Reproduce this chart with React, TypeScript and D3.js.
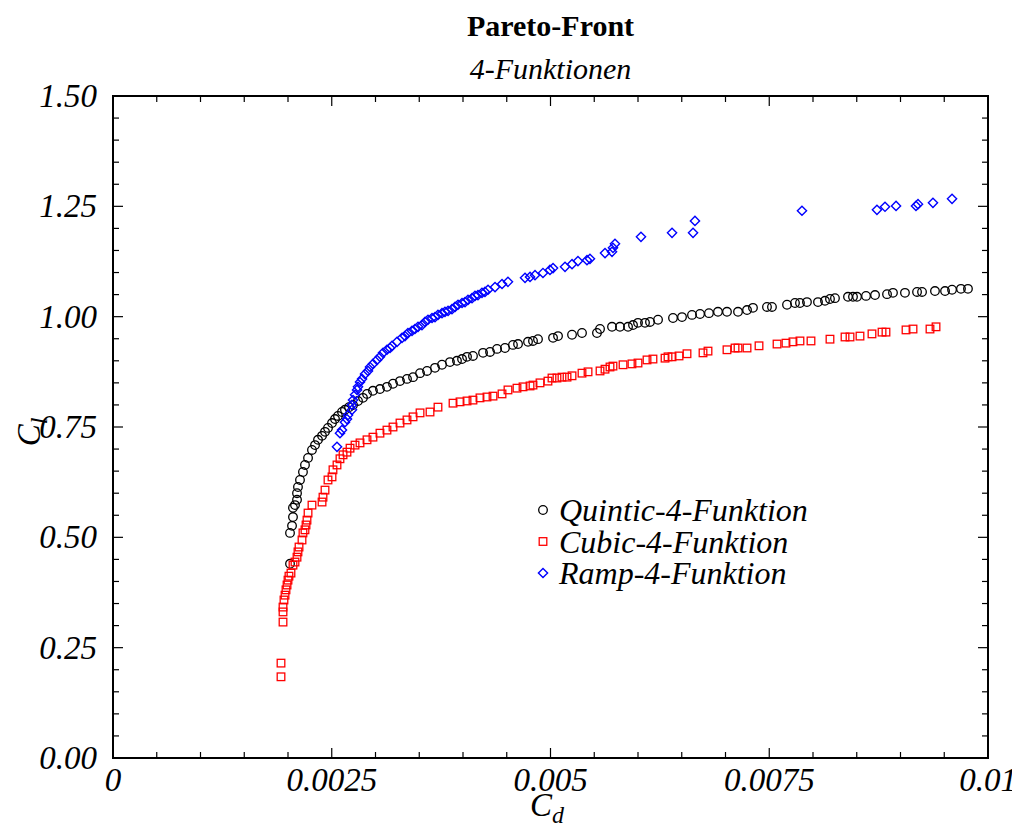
import React from "react";
import * as d3 from "d3";

// ---- Data (Cd, Cl) ----
const quinticCd = [0.002023,0.002023,0.002046,0.002057,0.002057,0.002080,0.002103,0.002103,0.002114,0.002137,0.002171,0.002194,0.002229,0.002274,0.002309,0.002343,0.002389,0.002423,0.002457,0.002503,0.002537,0.002571,0.002617,0.002651,0.002697,0.002743,0.002800,0.002857,0.002903,0.002971,0.003051,0.003131,0.003200,0.003280,0.003360,0.003429,0.003509,0.003589,0.003680,0.003760,0.003851,0.003931,0.003989,0.004046,0.004114,0.004229,0.004309,0.004389,0.004480,0.004571,0.004629,0.004743,0.004800,0.004857,0.005029,0.005086,0.005246,0.005360,0.005531,0.005566,0.005703,0.005794,0.005886,0.005943,0.006000,0.006080,0.006137,0.006229,0.006400,0.006503,0.006617,0.006709,0.006811,0.006914,0.007017,0.007143,0.007246,0.007314,0.007474,0.007531,0.007703,0.007794,0.007851,0.007931,0.008057,0.008137,0.008194,0.008251,0.008400,0.008457,0.008503,0.008606,0.008709,0.008846,0.008914,0.009051,0.009189,0.009246,0.009394,0.009509,0.009589,0.009691,0.009771];
const quinticCl = [0.440,0.510,0.526,0.546,0.567,0.573,0.585,0.600,0.614,0.630,0.648,0.664,0.680,0.698,0.709,0.721,0.730,0.739,0.748,0.759,0.768,0.775,0.784,0.789,0.795,0.800,0.809,0.816,0.825,0.832,0.836,0.841,0.848,0.854,0.859,0.863,0.872,0.877,0.884,0.891,0.897,0.900,0.904,0.909,0.911,0.918,0.920,0.927,0.929,0.936,0.938,0.943,0.945,0.949,0.952,0.956,0.959,0.963,0.963,0.972,0.977,0.977,0.977,0.981,0.986,0.986,0.988,0.993,0.997,0.999,1.004,1.006,1.008,1.011,1.011,1.011,1.015,1.020,1.022,1.022,1.027,1.031,1.031,1.033,1.033,1.036,1.040,1.042,1.045,1.045,1.045,1.047,1.049,1.051,1.054,1.054,1.056,1.056,1.058,1.058,1.061,1.063,1.063];

const cubicCd = [0.001920,0.001920,0.001943,0.001943,0.001943,0.001954,0.001966,0.001977,0.001989,0.002000,0.002011,0.002034,0.002057,0.002080,0.002103,0.002114,0.002126,0.002160,0.002171,0.002194,0.002206,0.002217,0.002229,0.002274,0.002389,0.002400,0.002423,0.002457,0.002503,0.002514,0.002560,0.002594,0.002629,0.002674,0.002709,0.002766,0.002823,0.002903,0.002971,0.003051,0.003131,0.003200,0.003280,0.003360,0.003429,0.003509,0.003623,0.003714,0.003886,0.003966,0.004046,0.004114,0.004194,0.004274,0.004343,0.004446,0.004514,0.004617,0.004686,0.004766,0.004800,0.004880,0.004971,0.005017,0.005074,0.005131,0.005189,0.005246,0.005360,0.005429,0.005566,0.005623,0.005680,0.005714,0.005829,0.005931,0.006000,0.006103,0.006171,0.006309,0.006343,0.006389,0.006469,0.006560,0.006743,0.006800,0.007017,0.007109,0.007143,0.007246,0.007383,0.007589,0.007691,0.007771,0.007851,0.007977,0.008194,0.008366,0.008423,0.008537,0.008674,0.008789,0.008834,0.009063,0.009143,0.009337,0.009406];
const cubicCl = [0.184,0.215,0.308,0.331,0.342,0.358,0.369,0.381,0.392,0.403,0.412,0.419,0.437,0.444,0.455,0.467,0.478,0.494,0.510,0.517,0.528,0.539,0.555,0.573,0.580,0.591,0.607,0.630,0.637,0.653,0.664,0.678,0.687,0.693,0.702,0.709,0.714,0.721,0.727,0.736,0.743,0.750,0.759,0.766,0.773,0.782,0.784,0.795,0.804,0.807,0.809,0.811,0.816,0.818,0.820,0.825,0.834,0.838,0.841,0.843,0.845,0.850,0.854,0.861,0.861,0.863,0.863,0.866,0.872,0.875,0.877,0.881,0.886,0.888,0.891,0.893,0.895,0.902,0.904,0.906,0.909,0.909,0.911,0.916,0.918,0.922,0.925,0.929,0.929,0.929,0.934,0.938,0.940,0.943,0.945,0.945,0.949,0.954,0.954,0.956,0.961,0.965,0.965,0.970,0.972,0.972,0.977];

const rampCd = [0.002560,0.002594,0.002617,0.002651,0.002674,0.002686,0.002731,0.002731,0.002743,0.002766,0.002789,0.002800,0.002823,0.002846,0.002880,0.002914,0.002937,0.002971,0.003017,0.003051,0.003086,0.003131,0.003166,0.003189,0.003246,0.003303,0.003337,0.003371,0.003417,0.003451,0.003486,0.003531,0.003566,0.003600,0.003646,0.003680,0.003714,0.003760,0.003794,0.003829,0.003874,0.003909,0.003943,0.003989,0.004023,0.004057,0.004103,0.004137,0.004171,0.004217,0.004251,0.004286,0.004366,0.004446,0.004514,0.004709,0.004766,0.004823,0.004914,0.004994,0.005029,0.005166,0.005246,0.005314,0.005417,0.005451,0.005623,0.005703,0.005714,0.005737,0.006034,0.006389,0.006629,0.006651,0.007874,0.008731,0.008823,0.008949,0.009177,0.009200,0.009371,0.009589];
const rampCl = [0.705,0.736,0.743,0.761,0.768,0.777,0.789,0.800,0.811,0.823,0.834,0.841,0.852,0.859,0.870,0.877,0.886,0.893,0.902,0.909,0.918,0.925,0.929,0.934,0.943,0.952,0.956,0.963,0.968,0.972,0.977,0.981,0.988,0.993,0.997,0.999,1.004,1.008,1.011,1.013,1.017,1.022,1.027,1.031,1.033,1.038,1.042,1.047,1.049,1.054,1.056,1.061,1.067,1.074,1.079,1.088,1.090,1.094,1.099,1.106,1.110,1.113,1.119,1.126,1.128,1.131,1.144,1.147,1.156,1.165,1.181,1.190,1.190,1.217,1.240,1.242,1.249,1.251,1.251,1.255,1.258,1.267];

const xTickValues = [0, 0.0025, 0.005, 0.0075, 0.01];
const xTickLabels = ["0", "0.0025", "0.005", "0.0075", "0.01"];
const yTickValues = [0, 0.25, 0.5, 0.75, 1.0, 1.25, 1.5];
const yTickLabels = ["0.00", "0.25", "0.50", "0.75", "1.00", "1.25", "1.50"];
const seriesNames = ["Quintic-4-Funktion", "Cubic-4-Funktion", "Ramp-4-Funktion"];
const seriesColors = ["#000000", "#ff0000", "#0000ff"];

const W = 1012, H = 828;
const L = 113, R = 988, T = 96, B = 758;
const FONT = "'Liberation Serif', 'Times New Roman', serif";

function Marker({ kind, x, y, color }: { kind: number; x: number; y: number; color: string }) {
  if (kind === 0) return <circle cx={x} cy={y} r={4.3} fill="none" stroke={color} strokeWidth={1.3} />;
  if (kind === 1) return <rect x={x - 3.8} y={y - 3.8} width={7.6} height={7.6} fill="none" stroke={color} strokeWidth={1.3} />;
  const s = 4.6;
  return <path d={`M${x},${y - s}L${x + s},${y}L${x},${y + s}L${x - s},${y}Z`} fill="none" stroke={color} strokeWidth={1.4} />;
}

export default function App() {
  const x = d3.scaleLinear().domain([0, 0.01]).range([L, R]);
  const y = d3.scaleLinear().domain([0, 1.5]).range([B, T]);
  const xMinor = d3.range(0, 0.01 + 1e-9, 0.0005);
  const yMinor = d3.range(0, 1.5 + 1e-9, 0.05);
  const isMajorX = (v: number) => Math.abs(v / 0.0025 - Math.round(v / 0.0025)) < 1e-6;
  const isMajorY = (v: number) => Math.abs(v / 0.25 - Math.round(v / 0.25)) < 1e-6;

  const series = [
    { cd: quinticCd, cl: quinticCl },
    { cd: cubicCd, cl: cubicCl },
    { cd: rampCd, cl: rampCl },
  ];

  return (
    <svg width={W} height={H} style={{ position: "absolute", left: 0, top: 0, background: "#fff" }} fontFamily={FONT}>
      <rect x={0} y={0} width={W} height={H} fill="#fff" />
      <text x={(L + R) / 2} y={36} textAnchor="middle" fontSize={30} fontWeight="bold">Pareto-Front</text>
      <text x={(L + R) / 2} y={79} textAnchor="middle" fontSize={30} fontStyle="italic">4-Funktionen</text>

      {/* ticks */}
      {xMinor.map((v, i) => {
        const len = isMajorX(v) ? 10 : 6;
        return (
          <g key={"xt" + i} stroke="#000" strokeWidth={1.2}>
            <line x1={x(v)} x2={x(v)} y1={B} y2={B - len} />
            <line x1={x(v)} x2={x(v)} y1={T} y2={T + len} />
          </g>
        );
      })}
      {yMinor.map((v, i) => {
        const len = isMajorY(v) ? 10 : 6;
        return (
          <g key={"yt" + i} stroke="#000" strokeWidth={1.2}>
            <line x1={L} x2={L + len} y1={y(v)} y2={y(v)} />
            <line x1={R} x2={R - len} y1={y(v)} y2={y(v)} />
          </g>
        );
      })}
      <rect x={L} y={T} width={R - L} height={B - T} fill="none" stroke="#000" strokeWidth={2} />

      {xTickValues.map((v, i) => (
        <text key={"xl" + i} x={x(v)} y={791} textAnchor="middle" fontSize={33} fontStyle="italic">{xTickLabels[i]}</text>
      ))}
      {yTickValues.map((v, i) => (
        <text key={"yl" + i} x={97} y={y(v) + 11} textAnchor="end" fontSize={33} fontStyle="italic">{yTickLabels[i]}</text>
      ))}

      <text x={547} y={816} textAnchor="middle" fontSize={33} fontStyle="italic">
        C<tspan fontSize={24} dy={7}>d</tspan>
      </text>
      <text transform={`translate(40,${432}) rotate(-90)`} textAnchor="middle" fontSize={33} fontStyle="italic">
        C<tspan fontSize={24} dy={7}>l</tspan>
      </text>

      {series.map((s, k) => (
        <g key={"s" + k}>
          {s.cd.map((cd, i) => (
            <Marker key={i} kind={k} x={x(cd)} y={y(s.cl[i])} color={seriesColors[k]} />
          ))}
        </g>
      ))}

      {seriesNames.map((n, k) => (
        <g key={"lg" + k}>
          <Marker kind={k} x={543} y={510 + k * 31.5} color={seriesColors[k]} />
          <text x={559} y={521 + k * 31.5} fontSize={32} fontStyle="italic">{n}</text>
        </g>
      ))}
    </svg>
  );
}
